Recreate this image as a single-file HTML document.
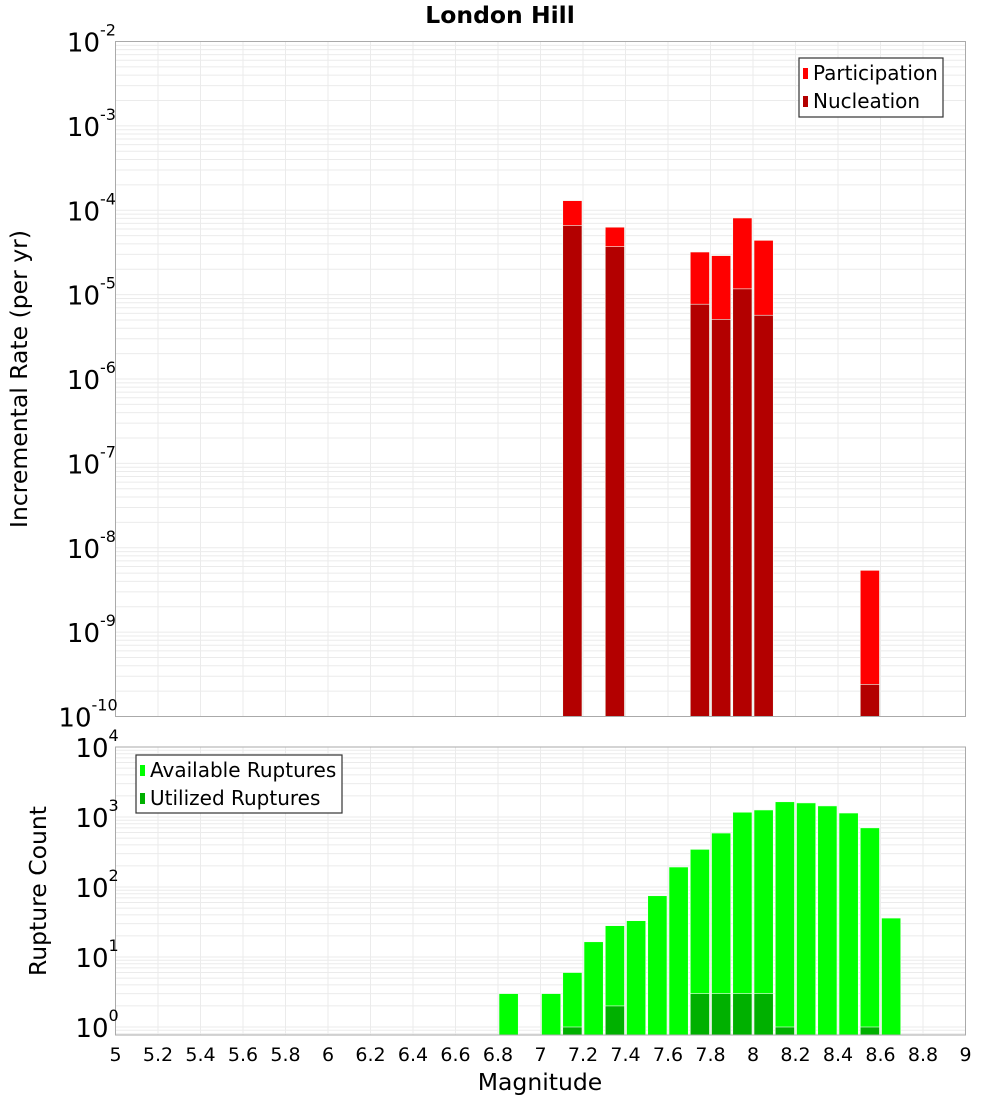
<!DOCTYPE html>
<html><head><meta charset="utf-8"><style>
body{margin:0;background:#fff;}
svg{display:block;font-family:"DejaVu Sans","Liberation Sans",sans-serif;}
</style></head><body>
<svg id="c" width="1000" height="1100" xmlns="http://www.w3.org/2000/svg"></svg>
<script>
const mags1 = [7.15, 7.35, 7.75, 7.85, 7.95, 8.05, 8.55];
const participation = [1.3e-4, 6.3e-5, 3.2e-5, 2.9e-5, 8.1e-5, 4.4e-5, 5.4e-9];
const nucleation = [6.6e-5, 3.7e-5, 7.7e-6, 5.1e-6, 1.17e-5, 5.7e-6, 2.4e-10];
const mags2 = [6.85, 7.05, 7.15, 7.25, 7.35, 7.45, 7.55, 7.65, 7.75, 7.85, 7.95, 8.05, 8.15, 8.25, 8.35, 8.45, 8.55, 8.65];
const available = [3, 3, 6, 16.5, 28, 33, 75, 193, 345, 590, 1170, 1260, 1650, 1590, 1440, 1140, 700, 36];
const utilized = [0, 0, 1, 0, 2, 0, 0, 0, 3, 3, 3, 3, 1, 0, 0, 0, 1, 0];
const xTicks = [5, 5.2, 5.4, 5.6, 5.8, 6, 6.2, 6.4, 6.6, 6.8, 7, 7.2, 7.4, 7.6, 7.8, 8, 8.2, 8.4, 8.6, 8.8, 9];
const topExps = [-2, -3, -4, -5, -6, -7, -8, -9, -10];
const botExps = [4, 3, 2, 1, 0];

const svg = document.getElementById('c');
const NS = 'http://www.w3.org/2000/svg';
function mk(tag, attrs, parent){const e=document.createElementNS(NS,tag);for(const k in attrs)e.setAttribute(k,attrs[k]);(parent||svg).appendChild(e);return e;}
const L = 115.5, R = 965.5;
const X = m => L + (m - 5) / 4 * (R - L);
const T1 = 41.5, B1 = 716.5, D1 = (B1 - T1) / 8;
const Y1 = v => T1 + (-2 - Math.log10(v)) * D1;
const T2 = 747, B2 = 1035, D2 = 70;
const Y2 = v => T2 + (4 - Math.log10(v)) * D2;

function grid(top, bot, Y, lo, hi){
  const g = mk('g', {});
  
  
  for (let e = lo; e < hi; e++) for (let k = 1; k < 10; k++) {
    const y = Y(k * Math.pow(10, e));
    if (y < top - 0.5 || y > bot + 0.5) continue;
    mk('line', {x1:L,x2:R,y1:y,y2:y,stroke:'#ebebeb','stroke-width':1}, g);
  }
  xTicks.forEach(t => { const x = X(t); mk('line', {x1:x,x2:x,y1:top,y2:bot,stroke:'#ebebeb','stroke-width':1}, g); });
}
grid(T1, B1, Y1, -10, -2);
grid(T2, B2, Y2, -1, 4);

function bars(mags, vals, Y, bot, color, name){
  mags.forEach((m, i) => {
    if (!(vals[i] > 0)) return;
    const y = Math.max(Y(vals[i]), 0);
    const r = mk('rect', {x:X(m - 0.05) + 1, y:y, width:X(m + 0.05) - X(m - 0.05) - 2, height:bot - y, fill:color, stroke:'#f4fff4','stroke-width':0.6});
    
    
  });
}
bars(mags1, participation, Y1, B1, '#ff0000', 'participation-bar');
bars(mags1, nucleation, Y1, B1, '#b30000', 'nucleation-bar');
bars(mags2, available, Y2, B2, '#00ff00', 'available-bar');
bars(mags2, utilized, Y2, B2, '#00b000', 'utilized-bar');

mk('rect', {x:L,y:T1,width:R-L,height:B1-T1,fill:'none',stroke:'#aaa'});
mk('rect', {x:L,y:T2,width:R-L,height:B2-T2,fill:'none',stroke:'#aaa'});

function ylabels(exps, Y){
  exps.forEach(e => {
    const y = Y(Math.pow(10, e));
    const s = String(e);
    const expEnd = 117;
    const expStart = expEnd - s.length * 8.5;
    const t = mk('text', {x:expStart, y:y + 10, 'text-anchor':'end', 'font-size':26, fill:'#000'});
    
    
    t.textContent = '10';
    const t2 = mk('text', {x:expStart, y:y - 6, 'font-size':16, fill:'#000'});
    
    
    t2.textContent = s;
  });
}
ylabels(topExps, Y1);
ylabels(botExps, Y2);

xTicks.forEach(t => {
  const e = mk('text', {x:X(t), y:1061, 'text-anchor':'middle', 'font-size':19, fill:'#000'});
  
  
  e.textContent = String(t);
});

let e;
e = mk('text', {x:500, y:23, 'text-anchor':'middle', 'font-size':23.5, 'font-weight':'bold'});
  e.textContent='London Hill';
e = mk('text', {x:540, y:1090, 'text-anchor':'middle', 'font-size':23.5});
  e.textContent='Magnitude';
e = mk('text', {x:0, y:0, 'text-anchor':'middle', 'font-size':23.5, transform:'translate(27,379) rotate(-90)'});
  e.textContent='Incremental Rate (per yr)';
e = mk('text', {x:0, y:0, 'text-anchor':'middle', 'font-size':23.5, transform:'translate(46,891) rotate(-90)'});
  e.textContent='Rupture Count';

function legend(x, y, w, h, items, name){
  const g = mk('g', {});
  
  
  mk('rect', {x:x, y:y, width:w, height:h, fill:'#fff', stroke:'#333', 'stroke-width':1.2}, g);
  items.forEach((it, i) => {
    const cy = y + 15 + i * 28;
    mk('rect', {x:x + 4, y:cy - 5, width:5, height:11, fill:it[1]}, g);
    const t = mk('text', {x:x + 14, y:cy + 7, 'font-size':20}, g);
    
    
    t.textContent = it[0];
  });
}
legend(799, 58, 144, 59, [['Participation','#ff0000'],['Nucleation','#b30000']], 'top-legend');
legend(136, 755, 206, 58, [['Available Ruptures','#00ff00'],['Utilized Ruptures','#00b000']], 'bottom-legend');
</script>
</body></html>
